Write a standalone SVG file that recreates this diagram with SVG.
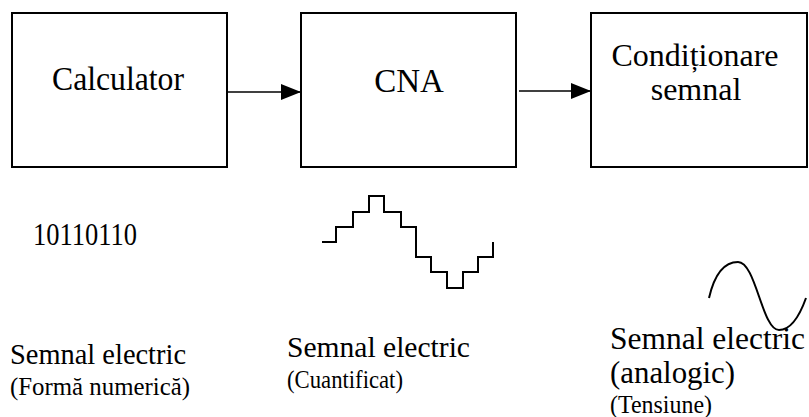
<svg xmlns="http://www.w3.org/2000/svg" width="809" height="417" viewBox="0 0 809 417">
  <style>
    .box { fill: #fff; stroke: #000; stroke-width: 2; }
    .wire { stroke: #000; stroke-width: 1.6; fill: none; }
    .wave { stroke: #000; stroke-width: 2; fill: none; }
  </style>
  <defs>
    <marker id="arrow" markerWidth="20" markerHeight="16" refX="20" refY="8" orient="auto" markerUnits="userSpaceOnUse" viewBox="0 0 20 16">
      <path d="M0,0 L20,8 L0,16 Z" fill="#000"/>
    </marker>
  </defs>

  <g font-family="'Liberation Serif', 'Times New Roman', serif" fill="#000">
    <g id="calculator">
      <rect class="box" x="12" y="13" width="215" height="154"/>
      <text font-size="33" x="118" y="90" text-anchor="middle" textLength="132" lengthAdjust="spacingAndGlyphs">Calculator</text>
    </g>

    <g id="cna">
      <rect class="box" x="301" y="13" width="215" height="154"/>
      <text font-size="33" x="409" y="92" text-anchor="middle">CNA</text>
    </g>

    <g id="conditionare">
      <rect class="box" x="591" y="13" width="216" height="154"/>
      <text font-size="32" x="695" y="66" text-anchor="middle">Condiționare</text>
      <text font-size="32" x="696" y="100" text-anchor="middle">semnal</text>
    </g>

    <!-- signal forms under each block -->
    <text font-size="31" x="33" y="245" textLength="104" lengthAdjust="spacingAndGlyphs">10110110</text>

    <!-- captions -->
    <text font-size="30" x="10" y="364" textLength="176" lengthAdjust="spacingAndGlyphs">Semnal electric</text>
    <text font-size="26" x="10" y="395" textLength="180" lengthAdjust="spacingAndGlyphs">(Formă numerică)</text>

    <text font-size="30" x="287" y="357" textLength="183" lengthAdjust="spacingAndGlyphs">Semnal electric</text>
    <text font-size="26" x="287" y="388" textLength="116" lengthAdjust="spacingAndGlyphs">(Cuantificat)</text>

    <text font-size="31" x="610" y="349" textLength="195" lengthAdjust="spacingAndGlyphs">Semnal electric</text>
    <text font-size="31" x="610" y="383" textLength="125" lengthAdjust="spacingAndGlyphs">(analogic)</text>
    <text font-size="25" x="610" y="413" textLength="102" lengthAdjust="spacingAndGlyphs">(Tensiune)</text>
  </g>

  <g id="connectors">
    <line class="wire" x1="227" y1="92" x2="301" y2="92" marker-end="url(#arrow)"/>
    <line class="wire" x1="519" y1="91" x2="591" y2="91" marker-end="url(#arrow)"/>
  </g>

  <!-- quantised staircase -->
  <path class="wave" d="M322,242 H336 V227 H353 V212 H369 V196 H384 V212 H401 V227 H416 V257 H431 V272 H447 V288 H463 V272 H478 V257 H493 V242"/>

  <!-- analog sine -->
  <path class="wave" d="M709,298 C715,272 725,262 738,262 C756,262 762,330 779,330 C793,330 801,312 806,298"/>
</svg>
